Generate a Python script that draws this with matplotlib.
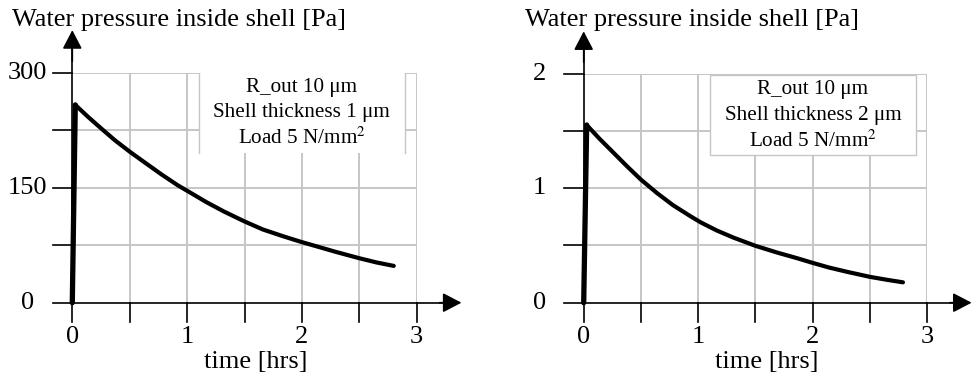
import numpy as np
import matplotlib.pyplot as plt
from matplotlib.patches import Rectangle

plt.rcParams["font.family"] = ["Liberation Serif", "DejaVu Serif"]
plt.rcParams["mathtext.fontset"] = "stix"

# ============================================================
# DATA
# ============================================================

time_1um = [0.0, 0.026, 0.14, 0.25, 0.37, 0.5, 0.63, 0.78, 0.92, 1.0, 1.17,
            1.32, 1.5, 1.66, 1.84, 2.0, 2.14, 2.29, 2.5, 2.65, 2.8]
pressure_1um = [0, 258, 242, 227.5, 212, 197, 183, 167, 153, 146, 131,
                119, 106, 95.5, 86.5, 79, 73, 66.5, 58, 52.5, 48]

time_2um = [0.0, 0.026, 0.14, 0.26, 0.38, 0.5, 0.64, 0.78, 0.93, 1.02, 1.16,
            1.31, 1.5, 1.69, 1.86, 2.0, 2.14, 2.3, 2.5, 2.65, 2.79]
pressure_2um = [0, 1.552, 1.43, 1.31, 1.19, 1.075, 0.958, 0.852, 0.757, 0.703, 0.632,
                0.568, 0.497, 0.438, 0.39, 0.348, 0.308, 0.27, 0.226, 0.20, 0.178]

x_ticks = [0, 1, 2, 3]
y_ticks_1 = [0, 150, 300]
y_ticks_2 = [0, 1, 2]

title = "Water pressure inside shell [Pa]"
xlabel = "time [hrs]"
box_lines_1 = ["R_out 10 μm", "Shell thickness 1 μm", r"Load 5 N/mm$^2$"]
box_lines_2 = ["R_out 10 μm", "Shell thickness 2 μm", r"Load 5 N/mm$^2$"]

# ============================================================
# FIGURE
# ============================================================

W, H = 972, 379
fig = plt.figure(figsize=(W / 100, H / 100), dpi=100)
grey = "#c6c6c6"


def px_axes(x0, x1, ytop, ybot):
    # axes rectangle given in pixel coordinates (from top-left)
    return fig.add_axes([x0 / W, (H - ybot) / H, (x1 - x0) / W, (ybot - ytop) / H])


def panel(ax, t, p, ymax, yticks, lines, box, full_border, title_x):
    ax.set_xlim(0, 3)
    ax.set_ylim(0, ymax)
    for s in ax.spines.values():
        s.set_visible(False)
    ax.set_xticks([])
    ax.set_yticks([])

    # grid
    for gx in np.arange(0.5, 3.01, 0.5):
        ax.plot([gx, gx], [0, ymax], color=grey, lw=1.4, zorder=1)
    for gy in np.linspace(ymax / 4, ymax, 4):
        ax.plot([0, 3], [gy, gy], color=grey, lw=1.4, zorder=1)

    # text box
    bx0, bx1, by0, by1 = box
    ax.add_patch(Rectangle((bx0, by0), bx1 - bx0, by1 - by0, facecolor="white",
                           edgecolor=grey if full_border else "none", lw=1.0, zorder=2))
    if not full_border:
        for bx in (bx0, bx1):
            ax.plot([bx, bx], [by0, by1], color=grey, lw=1.0, zorder=2)
    dy = by1 - by0
    for i, s in enumerate(lines):
        ax.text((bx0 + bx1) / 2, by1 - dy * (0.18 + 0.32 * i), s, ha="center",
                va="center", fontsize=15.2, zorder=3)

    # axes with arrows
    xl = -0.17
    ytick_len = ymax * 0.083
    arrow = dict(arrowstyle="-|>,head_length=1.15,head_width=0.6",
                 mutation_scale=10, color="black", lw=1.2, shrinkA=0, shrinkB=0)
    ax.plot([xl, 3.3], [0, 0], color="black", lw=1.2, zorder=4, clip_on=False)
    ax.annotate("", xy=(3.39, 0), xytext=(3.2, 0), annotation_clip=False,
                arrowprops=arrow)
    ax.plot([0, 0], [0, ymax * 1.12], color="black", lw=1.2, zorder=4, clip_on=False)
    ax.annotate("", xy=(0, ymax * 1.185), xytext=(0, ymax * 1.05), annotation_clip=False,
                arrowprops=arrow)
    for gy in np.linspace(ymax / 4, ymax, 4):
        ax.plot([xl, 0], [gy, gy], color="black", lw=1.2, zorder=4, clip_on=False)
    for gx in np.arange(0.0, 3.01, 0.5):
        ax.plot([gx, gx], [0, -ytick_len], color="black", lw=1.2, zorder=4, clip_on=False)

    # tick labels
    for v in yticks:
        ax.text(-0.39, v, f"{v}", ha="center", va="center", fontsize=19, clip_on=False)
    for v in x_ticks:
        ax.text(v, -ymax * 0.15, f"{v}", ha="center", va="center", fontsize=19, clip_on=False)
    ax.text(1.6, -ymax * 0.26, xlabel, ha="center", va="center", fontsize=19, clip_on=False)

    # data
    ax.plot(t[:2], p[:2], color="black", lw=3.8, zorder=5, clip_on=False,
            solid_capstyle="round")
    ax.plot(t[1:], p[1:], color="black", lw=3.0, zorder=5, clip_on=False,
            solid_capstyle="round", solid_joinstyle="round")

    fig.text(title_x / W, 1 - 26 / H, title, ha="left", va="baseline", fontsize=19)


ax1 = px_axes(72.3, 416.7, 72.7, 302.7)
panel(ax1, time_1um, pressure_1um, 300, y_ticks_1, box_lines_1,
      (1.10, 2.90, 195.6, 300), False, 12)

ax2 = px_axes(583.7, 927.0, 73.7, 302.7)
panel(ax2, time_2um, pressure_2um, 2, y_ticks_2, box_lines_2,
      (1.107, 2.90, 1.287, 1.99), True, 525)

fig.savefig("out.png", dpi=100)
